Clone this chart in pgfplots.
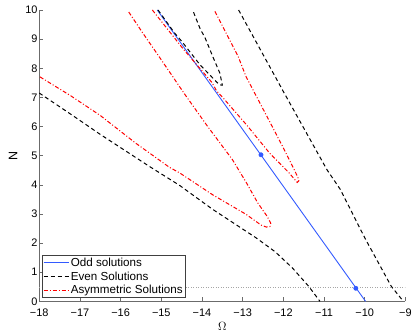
\documentclass[border=0pt]{standalone}
\usepackage{fontspec}
\setmainfont{Liberation Sans}
\usepackage{pgfplots}
\pgfplotsset{compat=1.18}
\definecolor{oddblue}{RGB}{51,90,255}
\definecolor{axgray}{rgb}{0.42,0.42,0.42}

\tikzset{
  oddline/.style={draw=oddblue, line width=0.9pt},
  evenline/.style={draw=black, line width=1bp, dash pattern=on 4bp off 3bp},
  asymline/.style={draw=red, line width=1bp, dash pattern=on 4bp off 2bp on 1bp off 2bp},
}

\begin{document}
\begin{tikzpicture}
\begin{axis}[
  name=ax,
  scale only axis,
  width=367bp, height=292bp,
  xmin=-18, xmax=-9, ymin=0, ymax=10,
  axis x line*=bottom, axis y line*=left,
  axis line style={axgray, line width=0.6pt, -},
  tick align=inside,
  major tick length=4bp,
  tick style={axgray, line width=0.6pt},
  xtick={-18,-17,...,-9},
  xticklabels={−18,−17,−16,−15,−14,−13,−12,−11,−10,−9},
  ytick={0,1,...,10},
  tick label style={font=\fontsize{11}{13}\selectfont, text=black},
  yticklabel style={inner sep=1.5bp},
  xticklabel style={yshift=-4bp},
  /pgf/number format/assume math mode=true,
  xlabel={$\Omega$},
  ylabel={N},
  label style={font=\fontsize{12.5}{14}\selectfont},
  xlabel style={yshift=1bp},
  ylabel style={yshift=3bp},
  legend style={at={(0.007,0.012)}, anchor=south west, draw=black!75,
    fill=white, font=\fontsize{11.7}{13.5}\selectfont, inner sep=1bp,
    row sep=0.4bp, nodes={inner sep=1.6bp}},
  legend cell align=left,
]
\addlegendimage{legend image code/.code={\draw[oddblue, line width=1.3pt] (0bp,0.4bp) -- (25bp,0.4bp);}}
\addlegendentry{Odd solutions}
\addlegendimage{legend image code/.code={\draw[evenline] (0bp,0bp) -- (25bp,0bp);}}
\addlegendentry{Even Solutions}
\addlegendimage{legend image code/.code={\draw[asymline] (0bp,0bp) -- (25bp,0bp);}}
\addlegendentry{Asymmetric Solutions}

% dotted reference level
\addplot[gray!70, dotted, line width=0.5pt, forget plot] coordinates {(-18,0.5) (-9,0.5)};

% odd solutions
\addplot[oddline, forget plot] coordinates {(-15.1,10) (-9.98,0)};

% even solutions, lower-left branch
\addplot[evenline, forget plot] coordinates {
  (-18,7.15) (-17.2,6.4) (-16.5,5.73) (-15.28,4.62) (-14.55,3.98) (-13.74,3.16)
  (-12.67,2.18) (-12.2,1.7) (-11.78,1.15) (-11.38,0.52) (-11.1,0)
};

% asymmetric solutions, lower loop
\addplot[asymline, forget plot] coordinates {
  (-15.8,9.93) (-15.48,9.26) (-15.03,8.35) (-14.42,7.1) (-13.86,6.0) (-13.25,4.86)
  (-12.9,4.05) (-12.63,3.38) (-12.4,2.92) (-12.31,2.68) (-12.33,2.57) (-12.42,2.55)
  (-12.55,2.62) (-12.92,2.99) (-13.74,3.66) (-14.55,4.41) (-14.8,4.6) (-15.62,5.42)
  (-16.5,6.38) (-17.22,7.05) (-18,7.72)
};

% asymmetric solutions, upper loop
\addplot[asymline, forget plot] coordinates {
  (-15.22,10) (-14.46,8.66) (-13.76,7.52) (-13.64,7.22) (-13.48,6.98) (-12.9,6.05)
  (-12.34,5.09) (-11.86,4.41) (-11.72,4.18) (-11.66,4.08) (-11.62,4.14) (-11.65,4.28)
  (-11.98,5.21) (-12.36,6.23) (-12.92,7.72) (-13.11,8.4) (-13.7,10)
};

% even solutions, hook near the odd line
\addplot[evenline, forget plot] coordinates {
  (-15.08,10) (-14.68,9.22) (-14.49,8.91) (-14.05,8.12) (-13.69,7.6) (-13.57,7.43)
  (-13.5,7.42) (-13.56,7.83) (-13.72,8.35) (-13.92,9.03) (-14.05,9.37) (-14.23,10)
};

% even solutions, right branch
\addplot[evenline, forget plot] coordinates {
  (-13.1,10) (-12.0,7.2) (-10.93,4.52) (-10.6,3.84) (-10.0,2.18) (-9.35,0.52) (-9.05,0)
};

% marked points on the odd branch
\addplot[only marks, mark=*, mark size=2.2bp, color=oddblue, forget plot] coordinates {
  (-12.55,5.03) (-10.22,0.45)
};
\end{axis}
\path[use as bounding box] ([shift={(-39.3bp,-34bp)}]ax.south west)
  rectangle ([shift={(8.3bp,10bp)}]ax.north east);
\end{tikzpicture}
\end{document}
